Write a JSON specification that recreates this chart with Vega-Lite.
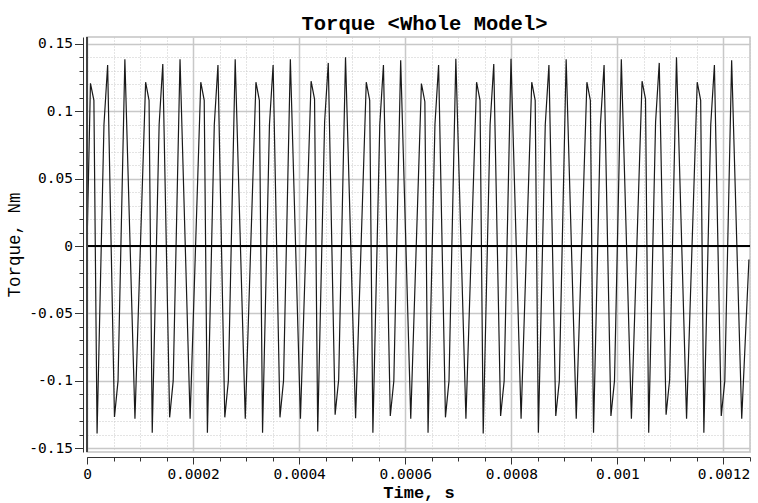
{
  "$schema": "https://vega.github.io/schema/vega-lite/v6.json",
  "width": 663,
  "height": 415,
  "autosize": "none",
  "padding": {"left": 87, "top": 37, "right": 8, "bottom": 51},
  "background": "white",
  "title": {
    "text": "Torque <Whole Model>",
    "font": "Liberation Mono", "fontSize": 20.5, "fontWeight": "bold", "color": "#000",
    "baseline": "bottom", "offset": 5, "dx": 6, "dy": 24
  },
  "config": {
    "view": {"stroke": "#c4c4c4", "strokeWidth": 1.5},
    "axis": {
      "domainColor": "#333", "tickColor": "#333", "gridColor": "#c8c8c8",
      "labelFont": "DejaVu Sans Mono", "labelFontSize": 14.5, "labelColor": "#000",
      "labelFlush": false, "labelOverlap": false,
      "titleFont": "Liberation Mono", "titleColor": "#000"
    }
  },
  "resolve": {"axis": {"y": "independent", "x": "independent"}},
  "data": {
    "values": [
      {"t": 0, "v": 0},
      {"t": 6.5e-6, "v": 0.1207}, {"t": 13.0e-6, "v": 0.108}, {"t": 19.0e-6, "v": -0.139}, {"t": 32.0e-6, "v": 0.09}, {"t": 38.9e-6, "v": 0.1343}, {"t": 51.8e-6, "v": -0.1267}, {"t": 58.5e-6, "v": -0.1}, {"t": 71.4e-6, "v": 0.1385}, {"t": 90.4e-6, "v": -0.128},
      {"t": 110.5e-6, "v": 0.1215}, {"t": 117.0e-6, "v": 0.108}, {"t": 123.0e-6, "v": -0.1385}, {"t": 136.0e-6, "v": 0.09}, {"t": 142.9e-6, "v": 0.135}, {"t": 155.8e-6, "v": -0.127}, {"t": 162.5e-6, "v": -0.1}, {"t": 175.4e-6, "v": 0.1385}, {"t": 194.4e-6, "v": -0.128},
      {"t": 214.5e-6, "v": 0.1215}, {"t": 221.0e-6, "v": 0.108}, {"t": 227.0e-6, "v": -0.1385}, {"t": 240.0e-6, "v": 0.09}, {"t": 246.9e-6, "v": 0.1343}, {"t": 259.8e-6, "v": -0.127}, {"t": 266.5e-6, "v": -0.1}, {"t": 279.4e-6, "v": 0.1385}, {"t": 298.4e-6, "v": -0.128},
      {"t": 318.5e-6, "v": 0.1215}, {"t": 325.0e-6, "v": 0.108}, {"t": 331.0e-6, "v": -0.1385}, {"t": 344.0e-6, "v": 0.09}, {"t": 350.9e-6, "v": 0.1343}, {"t": 363.8e-6, "v": -0.127}, {"t": 370.5e-6, "v": -0.1}, {"t": 383.4e-6, "v": 0.1385}, {"t": 402.4e-6, "v": -0.128},
      {"t": 422.5e-6, "v": 0.1222}, {"t": 429.0e-6, "v": 0.109}, {"t": 435.0e-6, "v": -0.1375}, {"t": 448.0e-6, "v": 0.092}, {"t": 454.9e-6, "v": 0.1358}, {"t": 467.8e-6, "v": -0.125}, {"t": 474.5e-6, "v": -0.099}, {"t": 487.4e-6, "v": 0.14}, {"t": 506.4e-6, "v": -0.1277},
      {"t": 526.5e-6, "v": 0.1215}, {"t": 533.0e-6, "v": 0.108}, {"t": 539.0e-6, "v": -0.1385}, {"t": 552.0e-6, "v": 0.09}, {"t": 558.9e-6, "v": 0.1343}, {"t": 571.8e-6, "v": -0.126}, {"t": 578.5e-6, "v": -0.1}, {"t": 591.4e-6, "v": 0.1378}, {"t": 610.4e-6, "v": -0.128},
      {"t": 630.5e-6, "v": 0.1205}, {"t": 637.0e-6, "v": 0.107}, {"t": 643.0e-6, "v": -0.1385}, {"t": 656.0e-6, "v": 0.09}, {"t": 662.9e-6, "v": 0.1343}, {"t": 675.8e-6, "v": -0.127}, {"t": 682.5e-6, "v": -0.1}, {"t": 695.4e-6, "v": 0.1388}, {"t": 714.4e-6, "v": -0.128},
      {"t": 734.5e-6, "v": 0.1215}, {"t": 741.0e-6, "v": 0.108}, {"t": 747.0e-6, "v": -0.139}, {"t": 760.0e-6, "v": 0.09}, {"t": 766.9e-6, "v": 0.135}, {"t": 779.8e-6, "v": -0.126}, {"t": 786.5e-6, "v": -0.1}, {"t": 799.4e-6, "v": 0.1388}, {"t": 818.4e-6, "v": -0.128},
      {"t": 838.5e-6, "v": 0.1215}, {"t": 845.0e-6, "v": 0.108}, {"t": 851.0e-6, "v": -0.1385}, {"t": 864.0e-6, "v": 0.09}, {"t": 870.9e-6, "v": 0.1343}, {"t": 883.8e-6, "v": -0.126}, {"t": 890.5e-6, "v": -0.1}, {"t": 903.4e-6, "v": 0.1385}, {"t": 922.4e-6, "v": -0.128},
      {"t": 942.5e-6, "v": 0.1215}, {"t": 949.0e-6, "v": 0.108}, {"t": 955.0e-6, "v": -0.1385}, {"t": 968.0e-6, "v": 0.09}, {"t": 974.9e-6, "v": 0.1343}, {"t": 987.8e-6, "v": -0.126}, {"t": 994.5e-6, "v": -0.1}, {"t": 1007.4e-6, "v": 0.1385}, {"t": 1026.4e-6, "v": -0.128},
      {"t": 1046.5e-6, "v": 0.1222}, {"t": 1053.0e-6, "v": 0.109}, {"t": 1059.0e-6, "v": -0.1385}, {"t": 1072.0e-6, "v": 0.092}, {"t": 1078.9e-6, "v": 0.1358}, {"t": 1091.8e-6, "v": -0.125}, {"t": 1098.5e-6, "v": -0.099}, {"t": 1111.4e-6, "v": 0.14}, {"t": 1130.4e-6, "v": -0.128},
      {"t": 1150.5e-6, "v": 0.1215}, {"t": 1157.0e-6, "v": 0.108}, {"t": 1163.0e-6, "v": -0.1385}, {"t": 1176.0e-6, "v": 0.09}, {"t": 1182.9e-6, "v": 0.1343}, {"t": 1195.8e-6, "v": -0.126}, {"t": 1202.5e-6, "v": -0.1}, {"t": 1215.4e-6, "v": 0.1378}, {"t": 1234.4e-6, "v": -0.128},
      {"t": 1248.0e-6, "v": -0.01}
    ]
  },
  "layer": [
    {
      "mark": {"type": "rule", "opacity": 0},
      "encoding": {
        "x": {
          "field": "t", "type": "quantitative",
          "scale": {"domain": [0, 0.00125], "nice": false, "zero": false},
          "axis": {
            "orient": "bottom",
            "values": [0, 0.00005, 0.0001, 0.00015, 0.00025, 0.0003, 0.00035, 0.00045, 0.0005, 0.00055, 0.00065, 0.0007, 0.00075, 0.00085, 0.0009, 0.00095, 0.00105, 0.0011, 0.00115, 0.00125],
            "offset": 5, "labels": false, "domain": false, "title": null,
            "tickSize": 4, "grid": true, "gridDash": [1, 2], "gridWidth": 1
          }
        },
        "y": {
          "field": "v", "type": "quantitative",
          "scale": {"domain": [-0.1527, 0.155], "nice": false, "zero": false},
          "axis": {
            "orient": "left",
            "values": [-0.14, -0.13, -0.12, -0.11, -0.09, -0.08, -0.07, -0.06, -0.04, -0.03, -0.02, -0.01, 0.01, 0.02, 0.03, 0.04, 0.06, 0.07, 0.08, 0.09, 0.11, 0.12, 0.13, 0.14],
            "offset": 4, "labels": false, "domain": false, "title": null,
            "tickSize": 4, "grid": true, "gridDash": [1, 2], "gridWidth": 1
          }
        }
      }
    },
    {
      "mark": {"type": "line", "color": "#1a1a1a", "strokeWidth": 1.2, "clip": true},
      "encoding": {
        "x": {
          "field": "t", "type": "quantitative",
          "axis": {
            "orient": "bottom",
            "values": [0, 0.0002, 0.0004, 0.0006, 0.0008, 0.001, 0.0012],
            "format": "~g",
            "offset": 5, "labelPadding": 3, "tickSize": 7,
            "grid": true, "gridWidth": 1.5,
            "title": "Time, s", "titleFontSize": 17, "titleFontWeight": "bold", "titlePadding": 4
          }
        },
        "y": {
          "field": "v", "type": "quantitative",
          "axis": {
            "orient": "left",
            "values": [-0.15, -0.1, -0.05, 0, 0.05, 0.1, 0.15],
            "labelExpr": "replace(datum.label, '\u2212', '-')",
            "format": "~g",
            "offset": 4, "labelPadding": 2, "tickSize": 8.5,
            "grid": true, "gridWidth": 1.5,
            "title": "Torque, Nm", "titleFontSize": 17.5, "titleFontWeight": "normal", "titlePadding": 5
          }
        }
      }
    },
    {
      "mark": {"type": "rule", "color": "#000", "strokeWidth": 2},
      "encoding": {"y": {"datum": 0, "type": "quantitative", "axis": null}}
    },
    {
      "mark": {"type": "rule", "color": "#444", "strokeWidth": 2},
      "encoding": {"x": {"datum": 0, "type": "quantitative", "axis": null}}
    }
  ]
}
